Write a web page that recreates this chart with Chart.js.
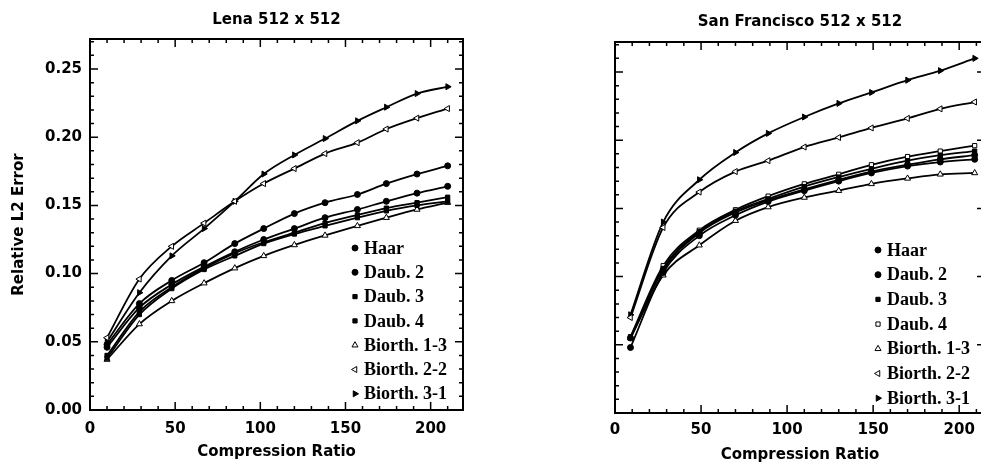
<!DOCTYPE html>
<html>
<head>
<meta charset="utf-8">
<script src="https://cdn.jsdelivr.net/npm/chart.js@4/dist/chart.umd.min.js"></script>
<style>
  html, body { margin: 0; padding: 0; background: #fff; overflow: hidden; }
  #lenaBox { position: absolute; left: 0; top: 0; width: 490px; height: 467px; }
  #sfBox { position: absolute; left: 490px; top: 0; width: 500px; height: 467px; }
</style>
</head>
<body>
<div id="lenaBox"><canvas id="lenaChart" width="490" height="467"></canvas></div>
<div id="sfBox"><canvas id="sfChart" width="500" height="467"></canvas></div>
<script>
// series names (same order in both panels)
var seriesNames = ['Haar', 'Daub. 2', 'Daub. 3', 'Daub. 4', 'Biorth. 1-3', 'Biorth. 2-2', 'Biorth. 3-1'];

// Lena 512 x 512
var lenaRatio = [10, 29, 48, 67, 85, 102, 120, 138, 157, 174, 192, 210];
var lenaHaar   = [0.048, 0.078, 0.095, 0.108, 0.122, 0.133, 0.144, 0.152, 0.158, 0.166, 0.173, 0.179];
var lenaDaub2  = [0.046, 0.075, 0.092, 0.105, 0.116, 0.125, 0.133, 0.141, 0.147, 0.153, 0.159, 0.164];
var lenaDaub3  = [0.040, 0.072, 0.090, 0.104, 0.115, 0.123, 0.130, 0.137, 0.143, 0.148, 0.152, 0.156];
var lenaDaub4  = [0.038, 0.070, 0.089, 0.103, 0.113, 0.122, 0.129, 0.135, 0.141, 0.146, 0.150, 0.153];
var lenaBior13 = [0.037, 0.063, 0.080, 0.093, 0.104, 0.113, 0.121, 0.128, 0.135, 0.141, 0.147, 0.152];
var lenaBior22 = [0.053, 0.096, 0.120, 0.137, 0.153, 0.166, 0.177, 0.188, 0.196, 0.206, 0.214, 0.221];
var lenaBior31 = [0.050, 0.086, 0.113, 0.133, 0.153, 0.173, 0.187, 0.199, 0.212, 0.222, 0.232, 0.237];

// San Francisco 512 x 512
var sfRatio = [9, 28, 49, 70, 89, 110, 130, 149, 170, 189, 209];
var sfHaar   = [0.048, 0.103, 0.130, 0.145, 0.155, 0.163, 0.170, 0.176, 0.181, 0.184, 0.186];
var sfDaub2  = [0.055, 0.105, 0.132, 0.147, 0.156, 0.164, 0.171, 0.177, 0.182, 0.186, 0.189];
var sfDaub3  = [0.055, 0.106, 0.133, 0.148, 0.157, 0.166, 0.173, 0.179, 0.185, 0.189, 0.192];
var sfDaub4  = [0.056, 0.108, 0.134, 0.149, 0.159, 0.168, 0.175, 0.182, 0.188, 0.192, 0.196];
var sfBior13 = [0.055, 0.101, 0.123, 0.141, 0.151, 0.158, 0.163, 0.168, 0.172, 0.175, 0.176];
var sfBior22 = [0.070, 0.136, 0.162, 0.177, 0.185, 0.195, 0.202, 0.209, 0.216, 0.223, 0.228];
var sfBior31 = [0.072, 0.140, 0.171, 0.191, 0.205, 0.217, 0.227, 0.235, 0.244, 0.251, 0.260];

var xTicks = [0, 50, 100, 150, 200];
var yTicks = [0, 0.05, 0.10, 0.15, 0.20, 0.25];

// marker looks
var markStyle = ['circle', 'circle', 'rect', 'rect', 'triangle', 'triangle', 'triangle'];
var markRot = [0, 0, 0, 0, 0, -90, 90];
var lenaFill = ['#000', '#000', '#000', '#000', '#fff', '#fff', '#000'];
var sfFill = ['#000', '#000', '#000', '#fff', '#fff', '#fff', '#000'];

Chart.defaults.font.family = '"DejaVu Sans", sans-serif';
Chart.defaults.color = '#000';

function makeDatasets(xs, ys, fills) {
    return ys.map(function (vals, i) {
        return {
            label: seriesNames[i],
            data: vals.map(function (v, j) { return { x: xs[j], y: v }; }),
            borderColor: '#000',
            borderWidth: 1.8,
            pointStyle: markStyle[i],
            rotation: markRot[i],
            pointRadius: markStyle[i] === 'triangle' ? 3.5 : 3,
            pointBackgroundColor: fills[i],
            pointBorderColor: '#000',
            pointBorderWidth: 1,
            cubicInterpolationMode: 'monotone',
            fill: false
        };
    });
}

// box with inward tick marks on all four sides
var frame = {
    id: 'frame',
    afterDraw: function (chart) {
        var ctx = chart.ctx, a = chart.chartArea;
        var x = chart.scales.x, y = chart.scales.y;
        ctx.save();
        ctx.strokeStyle = '#000';
        ctx.lineWidth = 2;
        ctx.strokeRect(a.left, a.top, a.right - a.left, a.bottom - a.top);
        ctx.lineWidth = 1.5;
        ctx.beginPath();
        for (var v = 0; v <= x.max; v += 10) {
            var px = x.getPixelForValue(v);
            var len = v % 50 === 0 ? 8 : 4;
            ctx.moveTo(px, a.bottom); ctx.lineTo(px, a.bottom - len);
            ctx.moveTo(px, a.top); ctx.lineTo(px, a.top + len);
        }
        for (var k = 0; k * 0.01 <= y.max; k++) {
            var py = y.getPixelForValue(k * 0.01);
            var l2 = k % 5 === 0 ? 8 : 4;
            ctx.moveTo(a.left, py); ctx.lineTo(a.left + l2, py);
            ctx.moveTo(a.right, py); ctx.lineTo(a.right - l2, py);
        }
        ctx.stroke();
        ctx.restore();
    }
};

// legend drawn inside the plot, lower right
var insideLegend = {
    id: 'insideLegend',
    afterDraw: function (chart, args, opts) {
        var ctx = chart.ctx;
        ctx.save();
        ctx.font = 'bold 18px "Liberation Serif", serif';
        ctx.textBaseline = 'middle';
        ctx.textAlign = 'left';
        chart.data.datasets.forEach(function (ds, i) {
            var yy = opts.y + i * opts.step;
            ctx.fillStyle = ds.pointBackgroundColor;
            ctx.strokeStyle = '#000';
            ctx.lineWidth = 1;
            Chart.helpers.drawPoint(ctx, {
                pointStyle: ds.pointStyle,
                radius: ds.pointStyle === 'triangle' ? 3.5 : 3,
                rotation: ds.rotation,
                borderWidth: 1
            }, opts.mark, yy);
            ctx.fillStyle = '#000';
            ctx.fillText(ds.label, opts.text, yy + 1);
        });
        ctx.restore();
    }
};

function makeChart(id, title, xs, ys, fills, xMax, cfg) {
    return new Chart(document.getElementById(id).getContext('2d'), {
        type: 'line',
        data: { datasets: makeDatasets(xs, ys, fills) },
        plugins: [frame, insideLegend],
        options: {
            responsive: false,
            animation: false,
            devicePixelRatio: 1,
            layout: { padding: { left: 0, right: cfg.padRight, top: 0, bottom: 0 } },
            plugins: {
                legend: { display: false },
                tooltip: { enabled: false },
                title: {
                    display: true,
                    text: title,
                    fullSize: false,
                    font: { size: 15, weight: 'bold' },
                    padding: { top: cfg.titleTop, bottom: cfg.titleBottom }
                },
                insideLegend: cfg.legend
            },
            scales: {
                x: {
                    type: 'linear',
                    min: 0,
                    max: xMax,
                    grid: { display: false, drawTicks: false },
                    border: { display: false },
                    afterBuildTicks: function (s) { s.ticks = xTicks.map(function (v) { return { value: v }; }); },
                    afterFit: function (s) { s.height = cfg.xHeight; },
                    ticks: { font: { size: 15, weight: 'bold' }, padding: cfg.xTickPad, maxRotation: 0 },
                    title: {
                        display: true,
                        text: 'Compression Ratio',
                        font: { size: 15, weight: 'bold' },
                        padding: { top: 0, bottom: cfg.xTitlePad }
                    }
                },
                y: {
                    type: 'linear',
                    min: 0,
                    max: 0.272,
                    grid: { display: false, drawTicks: false },
                    border: { display: false },
                    afterBuildTicks: function (s) { s.ticks = yTicks.map(function (v) { return { value: v }; }); },
                    afterFit: function (s) { s.width = cfg.yWidth; },
                    ticks: {
                        display: cfg.yLabels,
                        font: { size: 15, weight: 'bold' },
                        padding: 8,
                        callback: function (v) { return v.toFixed(2); }
                    },
                    title: {
                        display: cfg.yLabels,
                        text: 'Relative L2 Error',
                        font: { size: 15, weight: 'bold' },
                        padding: { top: 10, bottom: 0 }
                    }
                }
            }
        }
    });
}

makeChart('lenaChart', 'Lena 512 x 512', lenaRatio,
    [lenaHaar, lenaDaub2, lenaDaub3, lenaDaub4, lenaBior13, lenaBior22, lenaBior31], lenaFill, 219, {
        padRight: 27, titleTop: 11, titleBottom: 10, xHeight: 57, xTickPad: 10, xTitlePad: 6,
        yWidth: 90, yLabels: true,
        legend: { mark: 355, text: 364, y: 248, step: 24.3 }
    });

makeChart('sfChart', 'San Francisco 512 x 512', sfRatio,
    [sfHaar, sfDaub2, sfDaub3, sfDaub4, sfBior13, sfBior22, sfBior31], sfFill, 215, {
        padRight: 1, titleTop: 13, titleBottom: 11, xHeight: 54, xTickPad: 8, xTitlePad: 3,
        yWidth: 125, yLabels: false,
        legend: { mark: 388, text: 397, y: 250, step: 24.7 }
    });
</script>
</body>
</html>
